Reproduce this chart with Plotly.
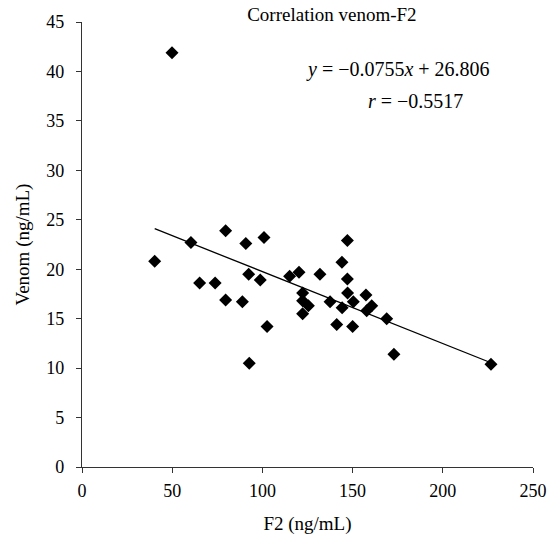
import numpy as np
import plotly.graph_objects as go

f2 = [40.3, 49.9, 60.4, 65.2, 73.8, 79.6, 79.6, 88.9, 90.8, 92.4, 92.7, 98.8,
      100.9, 102.6, 115.1, 120.3, 122.3, 122.3, 122.3, 125.5, 131.9, 137.5,
      141.2, 144.1, 144.2, 147.1, 147.2, 147.1, 150.0, 150.4, 157.4, 157.8,
      160.6, 168.9, 172.9, 226.7]
venom = [20.8, 41.9, 22.7, 18.6, 18.6, 23.9, 16.9, 16.7, 22.6, 19.5, 10.5, 18.9,
         23.2, 14.2, 19.3, 19.7, 17.6, 16.8, 15.5, 16.3, 19.5, 16.7,
         14.4, 20.7, 16.1, 22.9, 17.6, 19.0, 14.2, 16.7, 17.4, 15.8,
         16.3, 15.0, 11.4, 10.4]

title_text = "Correlation venom-F2"
eq_text = "<i>y</i> = \u22120.0755<i>x</i> + 26.806"
r_text = "<i>r</i> = \u22120.5517"
x_ticks = [0, 50, 100, 150, 200, 250]
y_ticks = [0, 5, 10, 15, 20, 25, 30, 35, 40, 45]

slope, intercept = np.polyfit(f2, venom, 1)
line_x = [min(f2), max(f2)]
line_y = [slope * v + intercept for v in line_x]

FONT = "Liberation Serif"

fig = go.Figure()
fig.add_trace(go.Scatter(x=line_x, y=line_y, mode="lines",
                         line=dict(color="black", width=1.3), showlegend=False))
fig.add_trace(go.Scatter(x=f2, y=venom, mode="markers",
                         marker=dict(symbol="diamond", size=10, color="black",
                                     line=dict(width=0)),
                         showlegend=False))

fig.add_annotation(x=175, y=40.15, xref="x", yref="y", text=eq_text, showarrow=False,
                   font=dict(family=FONT, size=20, color="black"))
fig.add_annotation(x=185, y=37.0, xref="x", yref="y", text=r_text, showarrow=False,
                   font=dict(family=FONT, size=20, color="black"))

fig.update_layout(
    width=555, height=537,
    margin=dict(l=82, r=22, t=22, b=70, autoexpand=False),
    plot_bgcolor="white", paper_bgcolor="white",
    font=dict(family=FONT, size=18, color="black"),
    title=dict(text=title_text, x=(82 + 533) / 2 / 555, xref="paper",
               xanchor="center", y=1 - 14 / 537, yanchor="middle",
               font=dict(family=FONT, size=19, color="black")),
    xaxis=dict(range=[0, 250], tickvals=x_ticks, showgrid=False, zeroline=False,
               automargin=False,
               showline=True, linecolor="#333", linewidth=1.2,
               ticks="outside", ticklen=5, tickcolor="#333",
               ticklabelstandoff=2,
               tickfont=dict(family=FONT, size=18),
               title=dict(text="F2 (ng/mL)", standoff=16,
                          font=dict(family=FONT, size=19))),
    yaxis=dict(range=[0, 45], tickvals=y_ticks, showgrid=False, zeroline=False,
               automargin=False,
               showline=True, linecolor="#333", linewidth=1.2,
               ticks="outside", ticklen=5, tickcolor="#333",
               ticklabelstandoff=8,
               tickfont=dict(family=FONT, size=18),
               title=dict(text="Venom (ng/mL)", standoff=11,
                          font=dict(family=FONT, size=19))),
)

fig.write_html("out.html", config={"displayModeBar": False},
               post_script="document.body.style.margin='0px';")
